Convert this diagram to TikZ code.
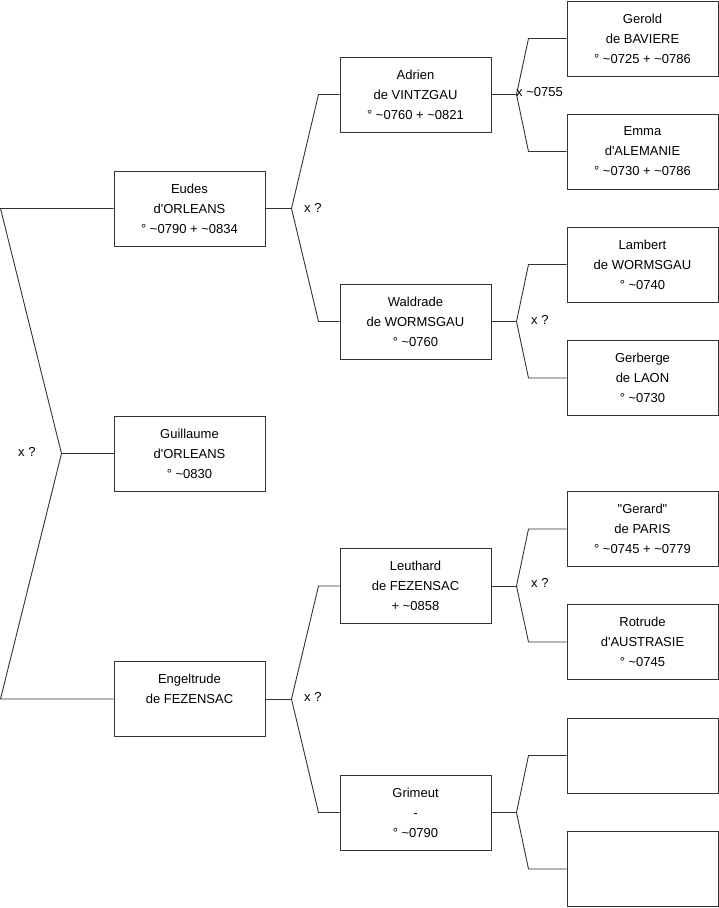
\documentclass[tikz,border=0pt]{standalone}
\usepackage{fontspec}
\setmainfont{Liberation Sans}[Ligatures=TeXOff]
\usepackage{tikz}
\usetikzlibrary{calc}
\definecolor{linec}{HTML}{333333}
\newcommand{\abt}{\textasciitilde}
\tikzset{
  pbox/.style={draw=linec,line width=1pt,minimum width=151pt,minimum height=75pt,align=center,inner sep=0pt,font=\fontsize{13}{20}\selectfont},
  ln/.style={line width=0.9pt,linec},
  lbl/.style={anchor=west,inner sep=0pt,font=\fontsize{13}{15}\selectfont}
}

\begin{document}
\begin{tikzpicture}[x=1pt,y=-1pt]
\useasboundingbox (0,0) rectangle (719,908);
% generation 1
\node[pbox] (eudes) at (189.5,208.5) {Eudes\\d'ORLEANS\\° \abt0790 + \abt0834};
\node[pbox] (guill) at (189.5,453.5) {Guillaume\\d'ORLEANS\\° \abt0830};
\node[pbox] (engel) at (189.5,699) {Engeltrude\\de FEZENSAC\\\mbox{}};
% generation 2
\node[pbox] (adrien) at (415.5,94.5) {Adrien\\de VINTZGAU\\° \abt0760 + \abt0821};
\node[pbox] (waldrade) at (415.5,321.5) {Waldrade\\de WORMSGAU\\° \abt0760};
\node[pbox] (leuthard) at (415.5,586) {Leuthard\\de FEZENSAC\\+ \abt0858};
\node[pbox] (grimeut) at (415.5,812.5) {Grimeut\\-\\° \abt0790};
% generation 3
\node[pbox] (gerold) at (642.5,38.5) {Gerold\\de BAVIERE\\° \abt0725 + \abt0786};
\node[pbox] (emma) at (642.5,151.5) {Emma\\d'ALEMANIE\\° \abt0730 + \abt0786};
\node[pbox] (lambert) at (642.5,264.5) {Lambert\\de WORMSGAU\\° \abt0740};
\node[pbox] (gerberge) at (642.5,378) {Gerberge\\de LAON\\° \abt0730};
\node[pbox] (gerard) at (642.5,529) {"Gerard"\\de PARIS\\° \abt0745 + \abt0779};
\node[pbox] (rotrude) at (642.5,642) {Rotrude\\d'AUSTRASIE\\° \abt0745};
\node[pbox] (emptya) at (642.5,755.5) {};
\node[pbox] (emptyb) at (642.5,869) {};

% forks
\coordinate (f0) at ($(guill.west)+(-52,0)$);
\draw[ln] (guill.west) -- (f0);
\draw[ln] (eudes.west) -- ++(-113,0) -- (f0) -- ($(engel.west)+(-113,0)$) -- (engel.west);
\foreach \fk/\ch/\pa/\pb/\dx/\dd in {f1/eudes/adrien/waldrade/-21/26,f5/engel/leuthard/grimeut/-21/26,
  f2/adrien/gerold/emma/-38/25,f3/waldrade/lambert/gerberge/-38/25,
  f4/leuthard/gerard/rotrude/-38/25,f6/grimeut/emptya/emptyb/-38/25}{
  \coordinate (\fk) at ($(\ch.east)+(\dd,0)$);
  \draw[ln] (\ch.east) -- (\fk);
  \draw[ln] (\pa.west) -- ++(\dx,0) -- (\fk) -- ($(\pb.west)+(\dx,0)$) -- (\pb.west);
}

% marriages
\node[lbl] (m0) at (18,452) {x ?};
\node[lbl] (m1) at (304,208) {x ?};
\node[lbl] (m2) at (516,92) {x \abt0755};
\node[lbl] (m3) at (531,320) {x ?};
\node[lbl] (m4) at (531,583) {x ?};
\node[lbl] (m5) at (304,697) {x ?};
\end{tikzpicture}
\end{document}
